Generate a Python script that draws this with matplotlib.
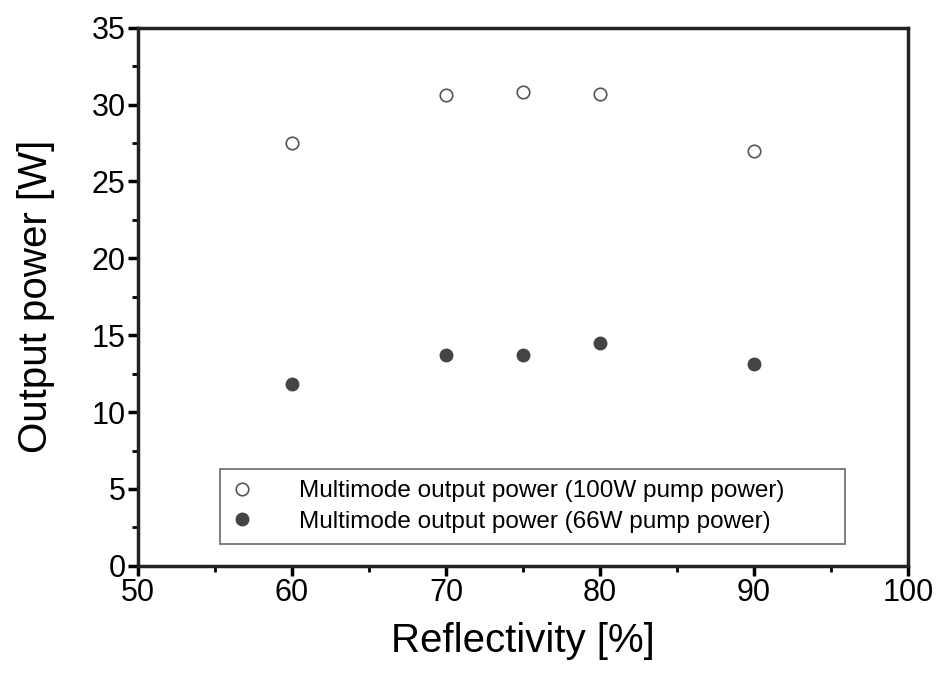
import matplotlib
matplotlib.use("Agg")
import matplotlib.pyplot as plt
from matplotlib.ticker import MultipleLocator

reflectivity = [60, 70, 75, 80, 90]
power_100w = [27.5, 30.6, 30.8, 30.7, 27.0]
power_66w = [11.8, 13.7, 13.7, 14.5, 13.1]

plt.rcParams['font.family'] = ['Liberation Sans', 'DejaVu Sans']

fig = plt.figure(figsize=(9.39, 6.76), dpi=100)
ax = fig.add_axes([0.147, 0.163, 0.820, 0.796])

ax.plot(reflectivity, power_100w, 'o', ms=9, mfc='white', mec='#555555', mew=1.2,
        label='Multimode output power (100W pump power)')
ax.plot(reflectivity, power_66w, 'o', ms=9, mfc='#444444', mec='#444444',
        label='Multimode output power (66W pump power)')

ax.set_xlim(50, 100)
ax.set_ylim(0, 35)
ax.xaxis.set_major_locator(MultipleLocator(10))
ax.xaxis.set_minor_locator(MultipleLocator(5))
ax.yaxis.set_major_locator(MultipleLocator(5))
ax.yaxis.set_minor_locator(MultipleLocator(2.5))
ax.tick_params(which='major', direction='out', length=7, width=2.5, labelsize=22, pad=2)
ax.tick_params(which='minor', direction='out', length=4, width=2)
for s in ax.spines.values():
    s.set_linewidth(2.5)
    s.set_color('#222222')

ax.set_xlabel('Reflectivity [%]', fontsize=29, labelpad=10)
ax.set_ylabel('Output power [W]', fontsize=29, labelpad=26)

leg = ax.legend(loc='lower left', bbox_to_anchor=(0.106, 0.041, 0.812, 0.14), mode='expand',
                borderaxespad=0, fontsize=17.5, frameon=True, fancybox=False,
                handletextpad=1.9, borderpad=0.45, labelspacing=0.35, handlelength=0.9)
leg.get_frame().set_edgecolor('#444444')
leg.get_frame().set_linewidth(1.2)

fig.savefig('out.png', dpi=100)
